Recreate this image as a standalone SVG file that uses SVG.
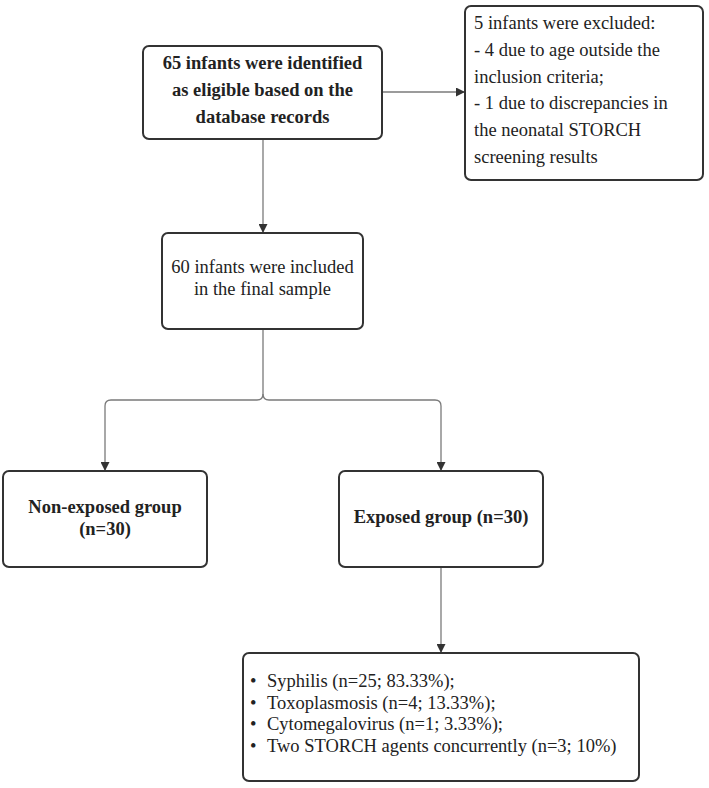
<svg xmlns="http://www.w3.org/2000/svg" width="709" height="788" viewBox="0 0 709 788">
  <style>
    .box { fill: #ffffff; stroke: #333333; stroke-width: 2; }
    .edge { fill: none; stroke: #7a7a7a; stroke-width: 1.3; }
    .t { font-family: 'Liberation Serif', serif; font-size: 18.5px; fill: #222222; }
    .b { font-weight: bold; }
    .c { text-anchor: middle; }
  </style>
  <defs>
    <marker id="arrow" viewBox="0 0 10 10" refX="10" refY="5" markerWidth="9" markerHeight="9" markerUnits="userSpaceOnUse" orient="auto">
      <path d="M0,0 L10,5 L0,10 Z" fill="#333333"/>
    </marker>
  </defs>
  <rect width="709" height="788" fill="#ffffff"/>

  <g id="connectors">
    <path class="edge" d="M382,92 H465" marker-end="url(#arrow)"/>
    <path class="edge" d="M263,139 V233" marker-end="url(#arrow)"/>
    <path class="edge" d="M263,329 V394 Q263,400 257,400 H111 Q105,400 105,406 V471" marker-end="url(#arrow)"/>
    <path class="edge" d="M263,394 Q263,400 269,400 H435 Q441,400 441,406 V471" marker-end="url(#arrow)"/>
    <path class="edge" d="M441,567 V653" marker-end="url(#arrow)"/>
  </g>

  <g class="t" font-family="Liberation Serif, serif">
    <g id="identified">
      <rect class="box" x="143" y="46" width="239" height="93" rx="6"/>
      <text class="b c" x="262.5" y="69">65 infants were identified</text>
      <text class="b c" x="262.5" y="96">as eligible based on the</text>
      <text class="b c" x="262.5" y="123">database records</text>
    </g>

    <g id="excluded">
      <rect class="box" x="465" y="6" width="238" height="174" rx="6"/>
      <text x="474" y="29">5 infants were excluded:</text>
      <text x="474" y="55.8">- 4 due to age outside the</text>
      <text x="474" y="82.6">inclusion criteria;</text>
      <text x="474" y="109.4">- 1 due to discrepancies in</text>
      <text x="474" y="136.2">the neonatal STORCH</text>
      <text x="474" y="163">screening results</text>
    </g>

    <g id="included">
      <rect class="box" x="162" y="233" width="201" height="96" rx="6"/>
      <text class="c" x="262.5" y="273">60 infants were included</text>
      <text class="c" x="262.5" y="295">in the final sample</text>
    </g>

    <g id="non-exposed">
      <rect class="box" x="3" y="471" width="204" height="96" rx="6"/>
      <text class="b c" x="105" y="513">Non-exposed group</text>
      <text class="b c" x="105" y="535">(n=30)</text>
    </g>

    <g id="exposed">
      <rect class="box" x="339" y="471" width="204" height="96" rx="6"/>
      <text class="b c" x="441" y="523">Exposed group (n=30)</text>
    </g>

    <g id="agents">
      <rect class="box" x="243" y="653" width="396" height="128" rx="6"/>
      <text x="250" y="687">•<tspan x="267">Syphilis (n=25; 83.33%);</tspan></text>
      <text x="250" y="708.7">•<tspan x="267">Toxoplasmosis (n=4; 13.33%);</tspan></text>
      <text x="250" y="730.3">•<tspan x="267">Cytomegalovirus (n=1; 3.33%);</tspan></text>
      <text x="250" y="752">•<tspan x="267">Two STORCH agents concurrently (n=3; 10%)</tspan></text>
    </g>
  </g>
</svg>
